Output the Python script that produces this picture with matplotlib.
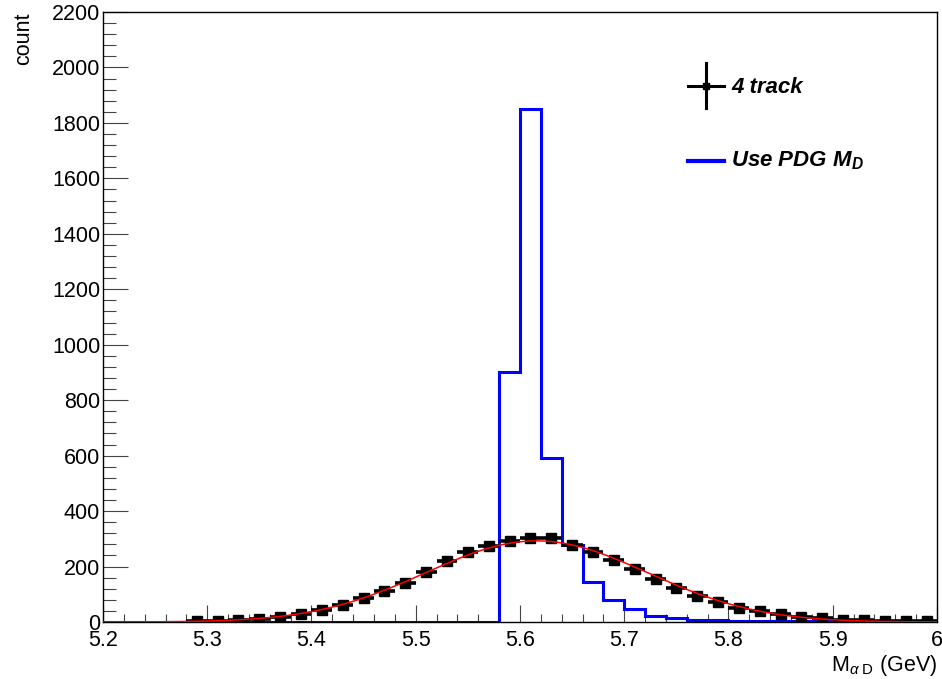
import numpy as np
import matplotlib.pyplot as plt
from matplotlib.ticker import MultipleLocator, FormatStrFormatter

plt.rcParams['font.family'] = ['Liberation Sans', 'DejaVu Sans']
plt.rcParams['mathtext.fontset'] = 'custom'
plt.rcParams['mathtext.rm'] = 'Liberation Sans'
plt.rcParams['mathtext.it'] = 'Liberation Sans:italic'
plt.rcParams['mathtext.bf'] = 'Liberation Sans:bold'
plt.rcParams['mathtext.bfit'] = 'Liberation Sans:bold:italic'

# binning of M_alphaD (GeV)
x_min, x_max, n_bins = 5.2, 6.0, 40

# "4 track" reconstruction, counts per bin
track4_counts = [0, 0, 0, 0, 2, 5, 8, 11, 18, 29,
                 43, 62, 86, 111, 140, 181, 219, 253, 273, 292,
                 304, 304, 278, 251, 223, 193, 154, 121, 94, 73,
                 52, 40, 28, 18, 14, 9, 6, 3, 2, 2]

# "Use PDG M_D", counts per bin
pdg_counts = [0, 0, 0, 0, 0, 0, 0, 0, 0, 0,
              0, 0, 0, 0, 0, 0, 0, 0, 0, 900,
              1850, 592, 277, 145, 80, 46, 23, 13, 9, 7,
              5, 4, 3, 2, 2, 1, 1, 1, 0, 0]

edges = np.linspace(x_min, x_max, n_bins + 1)
centers = 0.5 * (edges[:-1] + edges[1:])
bw = edges[1] - edges[0]
track4 = np.array(track4_counts, dtype=float)
pdg = np.array(pdg_counts, dtype=float)

# gaussian fit of the 4-track histogram (log-quadratic, weighted)
sel = track4 > 0
c2, c1, c0 = np.polyfit(centers[sel], np.log(track4[sel]), 2, w=np.sqrt(track4[sel]))
fit_sigma = np.sqrt(-1.0 / (2 * c2))
fit_mean = -c1 / (2 * c2)
fit_amp = np.exp(c0 - c1 ** 2 / (4 * c2))
xf = np.linspace(x_min, x_max, 400)
yf = fit_amp * np.exp(-0.5 * ((xf - fit_mean) / fit_sigma) ** 2)

fig = plt.figure(figsize=(9.42, 6.79), dpi=100)
ax = fig.add_axes([0.1093, 0.0839, 0.8854, 0.8984])

ax.stairs(pdg, edges, color='blue', lw=2.2, zorder=2)
ax.errorbar(centers[sel], track4[sel], xerr=bw / 2, yerr=np.sqrt(track4[sel]),
            fmt='s', color='black', ms=7, elinewidth=2.6, capsize=0, zorder=3)
ax.plot(xf, yf, color='red', lw=1.1, zorder=4)

ax.set_xlim(x_min, x_max)
ax.set_ylim(0, 2200)

ax.xaxis.set_major_locator(MultipleLocator(0.1))
ax.xaxis.set_minor_locator(MultipleLocator(0.02))
ax.yaxis.set_major_locator(MultipleLocator(200))
ax.yaxis.set_minor_locator(MultipleLocator(40))
ax.xaxis.set_major_formatter(FormatStrFormatter('%g'))
ax.yaxis.set_major_formatter(FormatStrFormatter('%d'))

ax.tick_params(axis='both', which='both', direction='in', top=False, right=False,
               labelsize=15.5, width=0.8, color='#444444')
ax.tick_params(axis='x', which='major', length=12.5, pad=6)
ax.tick_params(axis='x', which='minor', length=6)
ax.tick_params(axis='y', which='major', length=18, pad=2)
ax.tick_params(axis='y', which='minor', length=9)
for s in ax.spines.values():
    s.set_linewidth(1)

ax.set_xlabel(r'$\mathrm{M}_{\alpha\ \mathrm{D}}$ (GeV)', fontsize=15.5, ha='right')
ax.xaxis.set_label_coords(1.0, -0.05)
ax.set_ylabel('count', fontsize=15.5, loc='top')
ax.yaxis.set_label_coords(-0.082, 1.0)

# legend, drawn by hand in ROOT style
tr = ax.transAxes
ax.plot([0.7014, 0.7446], [0.879, 0.879], color='black', lw=2.2, transform=tr)
ax.plot([0.7230, 0.7230], [0.842, 0.916], color='black', lw=2.2, transform=tr)
ax.plot([0.7230], [0.879], marker='s', ms=5, color='black', transform=tr)
ax.text(0.753, 0.877, '4 track', transform=tr, fontsize=16, fontweight='bold',
        style='italic', va='center', ha='left')
ax.plot([0.7014, 0.7446], [0.755, 0.755], color='blue', lw=3, transform=tr)
ax.text(0.753, 0.757, r'Use PDG $\mathbfit{M}_{\mathbfit{D}}$', transform=tr, fontsize=16,
        fontweight='bold', style='italic', va='center', ha='left')

fig.savefig('out.png', dpi=100)
